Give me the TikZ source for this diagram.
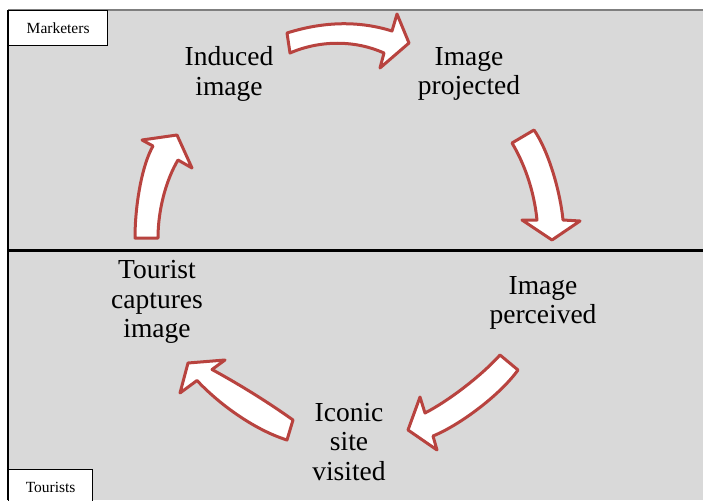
\documentclass[tikz,border=0pt]{standalone}
\usepackage{fontspec}
\setmainfont{Liberation Serif}
\usetikzlibrary{positioning}
\definecolor{panel}{HTML}{D9D9D9}
\definecolor{rim}{HTML}{B8433F}
\definecolor{edge}{HTML}{7F7F7F}
\tikzset{
  stage/.style={align=center, font=\fontsize{27.5}{29.5}\selectfont, inner sep=0pt},
  tag/.style={draw=black, line width=1.3pt, fill=white, anchor=north west,
    font=\fontsize{15.5}{18}\selectfont, minimum height=35pt},
  flow/.style={draw=rim, fill=white, line width=3pt, line join=round},
}

\begin{document}
\begin{tikzpicture}[x=1pt,y=-1pt]
  \useasboundingbox (0,0) rectangle (703,500);
  % panels
  \fill[panel] (8,10) rectangle (703,500);
  \draw[edge, line width=1.5pt] (8,10) -- (703,10);
  \draw[line width=1.5pt] (8,10) -- (8,500);
  \draw[line width=3pt] (8,250) -- (703,250);
  \node[tag, minimum width=99pt] (mkt) at (8,10) {Marketers};
  \node[tag, minimum width=84pt] (tour) at (8,469) {Tourists};
  % stages
  \node[stage] (induced) at (229,74) {Induced\\image};
  \node[stage] (projected) at (469,74) {Image\\projected};
  \node[stage] (perceived) at (543,303) {Image\\perceived};
  \node[stage] (visited) at (349,442) {Iconic\\site\\visited};
  \node[stage] (captures) at (157,302) {Tourist\\captures\\image};
  % block arrows
  \draw[flow] (287,33) .. controls (325,21) and (360,21) .. (392,31) -- (397,14)
    -- (409,43) -- (380,68) -- (384,53) .. controls (355,40) and (320,40) .. (290,53) -- cycle;
  \draw[flow] (512,143) -- (534,130) .. controls (548,150) and (560,190) .. (563,220)
    -- (580,221) -- (552,240) -- (522,220) -- (537,220) .. controls (534,190) and (524,163) .. (512,143) -- cycle;
  \draw[flow] (500,355) -- (518,370) .. controls (500,395) and (460,425) .. (433,436)
    -- (437,450) -- (408,430) -- (420,397) -- (425,413) .. controls (450,400) and (482,375) .. (500,355) -- cycle;
  \draw[flow] (287,440) -- (293,420) .. controls (265,400) and (235,382) .. (212,369.5)
    -- (225,360) -- (188,363) -- (180,393) -- (197,380.5) .. controls (220,405) and (255,430) .. (287,440) -- cycle;
  \draw[flow] (135,238) -- (158,238) .. controls (158,210) and (166,180) .. (178,160)
    -- (192,168) -- (177,135) -- (142,140) -- (153,146) .. controls (142,165) and (135,205) .. (135,238) -- cycle;
\end{tikzpicture}
\end{document}
